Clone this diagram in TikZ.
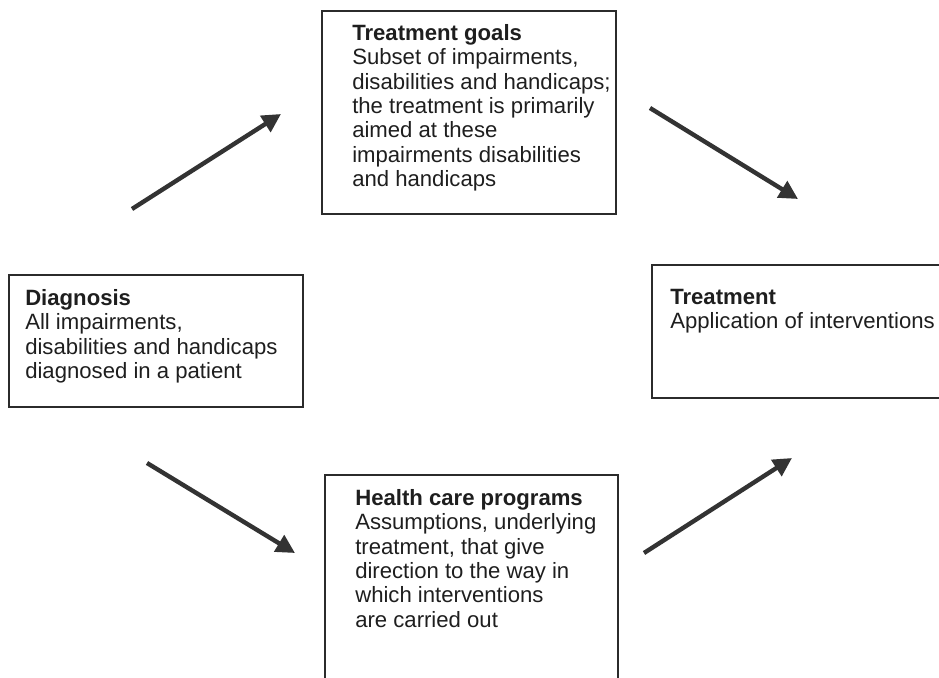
\documentclass[tikz,border=0pt]{standalone}
\usepackage{fontspec}
\setmainfont{Liberation Sans}
\usetikzlibrary{arrows.meta}
\definecolor{boxgray}{HTML}{2B2B2B}
\definecolor{arrowgray}{HTML}{333333}
\definecolor{inkgray}{HTML}{1E1E1E}

\begin{document}
\begin{tikzpicture}[x=0.75pt,y=-0.75pt,
  box/.style={draw=boxgray,line width=1.5pt,rectangle,anchor=north west,inner sep=0pt},
  boxtext/.style={anchor=north west,inner sep=0pt,align=left,text=inkgray,
    font=\fontsize{16.6}{18.3}\selectfont},
  flow/.style={draw=arrowgray,line width=3.3pt,-{Triangle[length=14pt,width=14pt]}}]
% Page size, the right and bottom boxes run off it
\useasboundingbox (0,0) rectangle (939,678);
\clip (0,0) rectangle (939,678);
% Four boxes
\node[box,minimum width=220.5pt,minimum height=152.25pt] (goals) at (321,10) {};
\node[box,minimum width=220.5pt,minimum height=99pt] (diagnosis) at (8,274) {};
\node[box,minimum width=220.5pt,minimum height=99.75pt] (treatment) at (651,264) {};
\node[box,minimum width=220pt,minimum height=153.75pt] (programs) at (324,474) {};
% Texts inside the boxes
\node[boxtext] (goals-txt) at (352,24) {\textbf{Treatment goals}\\
  Subset of impairments,\\ disabilities and handicaps;\\ the treatment is primarily\\
  aimed at these\\ impairments disabilities\\ and handicaps};
\node[boxtext] (diagnosis-txt) at (25,289) {\textbf{Diagnosis}\\
  All impairments,\\ disabilities and handicaps\\ diagnosed in a patient};
\node[boxtext] (treatment-txt) at (670,289) {\textbf{Treatment}\\
  Application of interventions};
\node[boxtext] (programs-txt) at (355,489) {\textbf{Health care programs}\\
  Assumptions, underlying\\ treatment, that give\\ direction to the way in\\
  which interventions\\ are carried out};
% End points of the arrows between the boxes
\coordinate (d-out1) at (132,209);
\coordinate (g-in) at (281,114);
\coordinate (g-out) at (650,108);
\coordinate (t-in1) at (798,199);
\coordinate (d-out2) at (147,463);
\coordinate (p-in) at (295,553);
\coordinate (p-out) at (644,553);
\coordinate (t-in2) at (792,458);
% Arrows
\draw[flow] (d-out1) -- (g-in);
\draw[flow] (g-out) -- (t-in1);
\draw[flow] (d-out2) -- (p-in);
\draw[flow] (p-out) -- (t-in2);
\end{tikzpicture}
\end{document}
